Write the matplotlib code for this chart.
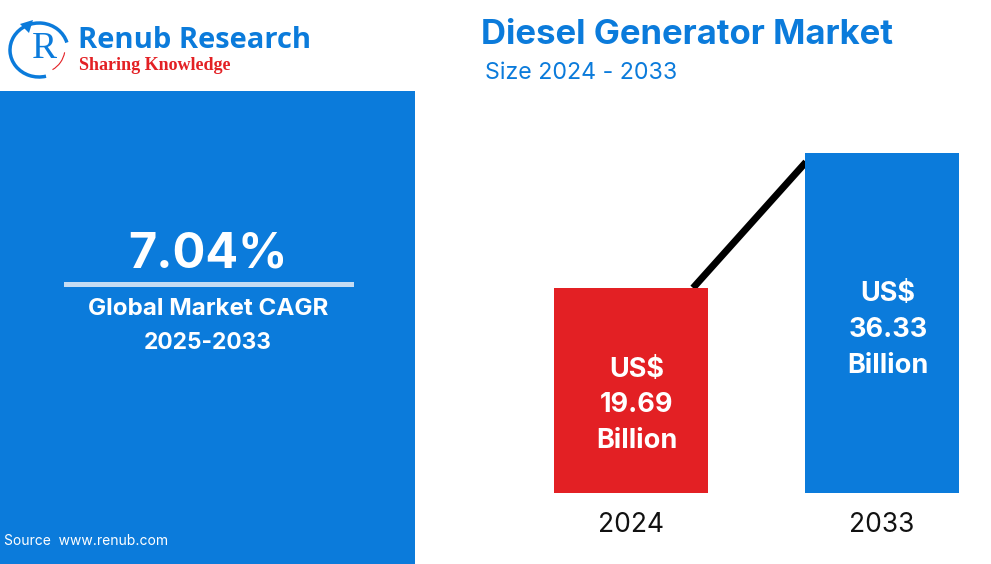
import matplotlib
matplotlib.use("Agg")
import matplotlib.pyplot as plt
from matplotlib.patches import Rectangle, Arc, Polygon

years = ["2024", "2033"]
values = [19.69, 36.33]
value_labels = ["US$\n19.69\nBillion", "US$\n36.33\nBillion"]
colors = ["#e32024", "#0b7bdb"]
BLUE = "#0b7bdb"
W, H = 991, 564

plt.rcParams['font.family'] = ['Inter', 'DejaVu Sans']
fig = plt.figure(figsize=(W/100, H/100), dpi=100, facecolor="white")

bg = fig.add_axes([0, 0, 1, 1])
bg.set_xlim(0, W); bg.set_ylim(H, 0); bg.axis("off")

bg.add_patch(Rectangle((0, 91), 415, H-91, color=BLUE, lw=0))
bg.add_patch(Rectangle((64, 282), 290, 5, color="#c5dcf3", lw=0))
bg.text(208, 255, "7.04%", color="white", fontsize=35, fontweight="bold", ha="center", va="center")
bg.text(208, 309, "Global Market CAGR", color="white", fontsize=17.4, fontweight="bold", ha="center", va="center")
bg.text(208, 343, "2025-2033", color="white", fontsize=16.4, fontweight="bold", ha="center", va="center")
bg.text(4, 541, "Source  www.renub.com", color="white", fontsize=10, ha="left", va="center")

bg.text(481, 35, "Diesel Generator Market", color=BLUE, fontsize=25, fontweight="bold", ha="left", va="center")
bg.text(485, 73, "Size 2024 - 2033", color=BLUE, fontsize=16.7, ha="left", va="center")

# logo
bg.add_patch(Arc((39, 50), 58, 54, theta1=75, theta2=345, color=BLUE, lw=2.5))
bg.add_patch(Arc((40, 48), 50, 50, theta1=10, theta2=60, color="#e32024", lw=0.8))
bg.add_patch(Polygon([[20, 24], [33, 20], [29, 33]], color=BLUE, lw=0))
bg.text(44, 49, "R", color=BLUE, fontsize=27, ha="center", va="center", family="Liberation Serif")
bg.text(78, 40, "Renub Research", color=BLUE, fontsize=21, fontweight="bold", ha="left", va="center",
        family="Open Sans")
bg.text(79, 65, "Sharing Knowledge", color="#e32024", fontsize=13, fontweight="bold", ha="left", va="center",
        family="Liberation Serif")

# value axis fitted to the two bar tops in the reference
bottom_px, top_px, red_px = 493, 153, 288
per_px = (values[1] - values[0]) / (red_px - top_px)
base = values[0] - (bottom_px - red_px) * per_px
ax = fig.add_axes([554/W, 1-bottom_px/H, (959-554)/W, (bottom_px-top_px)/H])
ax.set_xlim(0, 405); ax.set_ylim(base, values[1])
ax.axis("off")
xs = [77, 328]
# connector seen between the two bars
ax.plot([139, 252], [values[0], values[1] - 9 * per_px], color="black", lw=5, zorder=1, clip_on=False, solid_capstyle="butt")
ax.bar(xs, [v - base for v in values], bottom=base, width=154, color=colors, zorder=2)

bg.set_zorder(0); ax.set_zorder(1); ax.patch.set_alpha(0)
fg = fig.add_axes([0, 0, 1, 1])
fg.set_xlim(0, W); fg.set_ylim(H, 0); fg.axis("off"); fg.patch.set_alpha(0); fg.set_zorder(2)
ypxs = [[370, 405, 441], [294, 330, 366]]
for x, lab, yr, ypx in zip(xs, value_labels, years, ypxs):
    for l, yp in zip(lab.split("\n"), ypx):
        fg.text(554 + x + 6, yp, l, color="white", fontsize=19.5, fontweight="bold", ha="center", va="center")
    fg.text(554 + x, 525, yr, color="#111111", fontsize=19, ha="center", va="center")

fig.savefig("out.png", dpi=100)
